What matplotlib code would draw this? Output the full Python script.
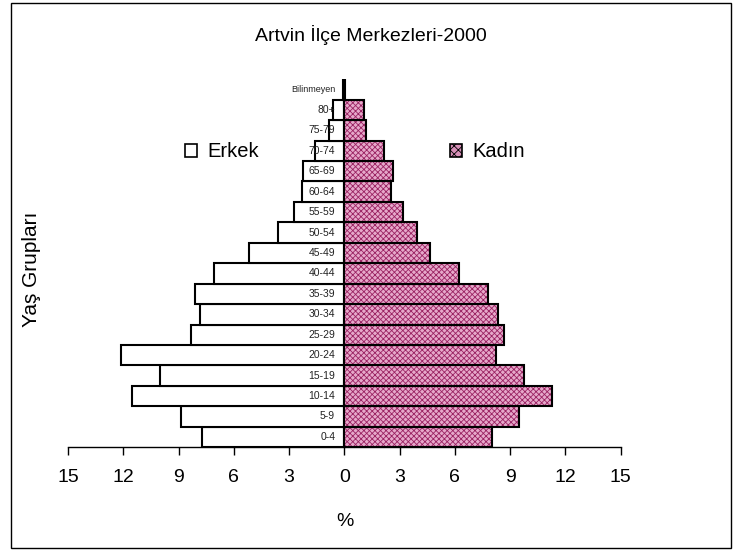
import matplotlib
matplotlib.use('Agg')
from matplotlib import pyplot as plt
from matplotlib.patches import Patch, Rectangle

# -- Dados --
grupos = ['0-4', '5-9', '10-14', '15-19', '20-24', '25-29', '30-34', '35-39',
          '40-44', '45-49', '50-54', '55-59', '60-64', '65-69', '70-74',
          '75-79', '80+', 'Bilinmeyen']
erkek = [7.72, 8.86, 11.51, 10.0, 12.14, 8.32, 7.81, 8.10, 7.05, 5.17,
         3.58, 2.73, 2.32, 2.22, 1.59, 0.85, 0.60, 0.05]
kadin = [7.99, 9.48, 11.25, 9.75, 8.22, 8.67, 8.36, 7.82, 6.23, 4.67,
         3.93, 3.20, 2.52, 2.66, 2.13, 1.19, 1.08, 0.05]
ticks = [-15, -12, -9, -6, -3, 0, 3, 6, 9, 12, 15]
tick_labels = ['15', '12', '9', '6', '3', '0', '3', '6', '9', '12', '15']

plt.rcParams['font.family'] = ['Liberation Sans', 'DejaVu Sans']
plt.rcParams['hatch.linewidth'] = 0.6

fig = plt.figure(figsize=(7.39, 5.5), dpi=100)
ax = fig.add_axes([0.092, 0.187, 0.748, 0.669])

y = list(range(len(grupos)))
esq = [-v for v in erkek]

# Erkek (lado esquerdo, branco)
ax.barh(y, esq, height=1.0, color='white', edgecolor='black', linewidth=1.5)
# Kadın (lado direito, rosa com textura)
ax.barh(y, kadin, height=1.0, color='#e6a8ca', edgecolor='#9a2262',
        hatch='xxxxxx', linewidth=0)
ax.barh(y, kadin, height=1.0, fill=False, edgecolor='black', linewidth=1.5)

# rótulos das faixas etárias dentro do gráfico
for i, g in enumerate(grupos):
    tam = 6.5 if g == 'Bilinmeyen' else 7.5
    ax.text(-0.5, i, g, ha='right', va='center', fontsize=tam, color='#222222')

ax.set_xlim(-15, 15)
ax.set_ylim(-0.5, len(grupos) - 0.5)
ax.set_xticks(ticks)
ax.set_xticklabels(tick_labels, fontsize=14)
ax.set_yticks([])
for lado in ['top', 'right', 'left']:
    ax.spines[lado].set_visible(False)
ax.spines['bottom'].set_linewidth(1.0)
ax.tick_params(axis='x', direction='out', length=6, width=1.0, pad=10)

# legenda
handles = [Patch(facecolor='white', edgecolor='black', linewidth=1.2),
           Patch(facecolor='#d890b8', edgecolor='black', linewidth=1.2, hatch='xxxx')]
fig.legend(handles, ['Erkek', 'Kadın'], loc='center', ncol=2,
           bbox_to_anchor=(0.48, 0.724), frameon=False, fontsize=14.5,
           handlelength=0.6, handleheight=0.6, handletextpad=0.5,
           columnspacing=9.5)

# título centrado na área do gráfico (moldura)
fig.text(0.502, 0.936, 'Artvin İlçe Merkezleri-2000', ha='center', va='center', fontsize=14)
fig.text(0.467, 0.051, '%', ha='center', va='center', fontsize=14)
fig.text(0.042, 0.51, 'Yaş Grupları', ha='center', va='center', rotation=90, fontsize=15)

# moldura em volta da figura
fig.patches.append(Rectangle((0.015, 0.004), 0.974, 0.99, transform=fig.transFigure,
                             fill=False, edgecolor='black', linewidth=1.0))

plt.savefig('out.png', dpi=100)
